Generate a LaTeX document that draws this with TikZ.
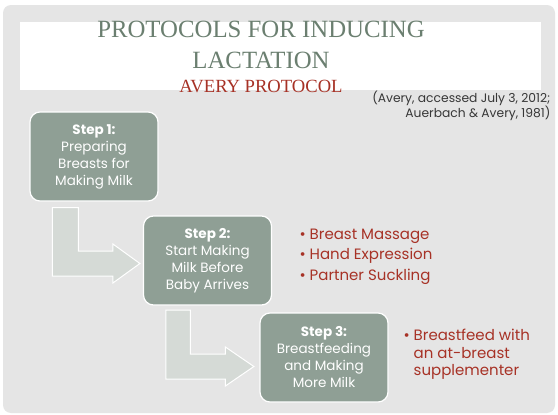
\documentclass[tikz,border=0pt]{standalone}
\usepackage{fontspec}
\setmainfont{Liberation Serif}
\newfontfamily\gothic{Poppins}
\usetikzlibrary{calc}
\definecolor{slidegray}{RGB}{229,229,229}
\definecolor{titlegreen}{RGB}{107,127,112}
\definecolor{titlered}{RGB}{167,50,38}
\definecolor{stepgreen}{RGB}{143,159,149}
\definecolor{arrowgray}{RGB}{213,218,214}
\definecolor{citegray}{RGB}{55,55,55}
\tikzset{
  stepbox/.style={rectangle, rounded corners=10pt, draw=white, line width=1.2pt,
    fill=stepgreen, text=white, minimum width=128pt, minimum height=89pt,
    align=center, font=\gothic\fontsize{13.5}{17}\selectfont},
  bendarrow/.style={draw=white, line width=1pt, fill=arrowgray},
  bullets/.style={anchor=west, align=left, text=titlered,
    font=\gothic\fontsize{15}{20.5}\selectfont},
}
\begin{document}
\begin{tikzpicture}[x=1pt, y=-1pt]
\useasboundingbox (0,0) rectangle (558,415);
\fill[white] (0,0) rectangle (558,415);
\fill[slidegray, rounded corners=8pt] (3,5) rectangle (555,413);
\fill[white] (20,22) rectangle (541,90);
% title
\node[font=\fontsize{24.8}{31}\selectfont, text=titlegreen, align=center] (title) at (261,44.5) {PROTOCOLS FOR INDUCING\\LACTATION};
\node[font=\fontsize{18.6}{20}\selectfont, text=titlered] (subtitle) at (261,86) {AVERY PROTOCOL};
\node[anchor=north east, align=right, text=citegray, font=\gothic\fontsize{12.3}{14}\selectfont] (cite) at (554,87) {(Avery, accessed July 3, 2012;\\Auerbach \& Avery, 1981)};
% steps
\node[stepbox] (s1) at (94,156.5) {\textbf{Step 1:}\\Preparing\\Breasts for\\Making Milk};
\node[stepbox] (s2) at (207.5,260.5) {\textbf{Step 2:}\\Start Making\\Milk Before\\Baby Arrives};
\node[stepbox] (s3) at (324,357.5) {\textbf{Step 3:}\\Breastfeeding\\and Making\\More Milk};
% bent arrows
\coordinate (a1) at ($(s1.south west)+(23,6)$);
\coordinate (t1) at ($(s2.west)+(-3,3)$);
\draw[bendarrow] (a1) -- ++(26,0) |- ($(t1)+(-27,-12.5)$) -- ++(0,-7) -- (t1)
  -- ++(-27,19.5) -- ++(0,-7) -| (a1) -- cycle;
\coordinate (a2) at ($(s2.south west)+(23,4.5)$);
\coordinate (t2) at ($(s3.west)+(-5.5,9)$);
\draw[bendarrow] (a2) -- ++(24.5,0) |- ($(t2)+(-28.5,-12.5)$) -- ++(0,-7) -- (t2)
  -- ++(-28.5,19.5) -- ++(0,-7) -| (a2) -- cycle;
% bullet lists
\node[bullets] (b2) at (296,256.5) {\textbullet\ Breast Massage\\\textbullet\ Hand Expression\\\textbullet\ Partner Suckling};
\node[bullets, font=\gothic\fontsize{15}{17.5}\selectfont] (b3) at (400,354.5) {\textbullet\ Breastfeed with\\\hphantom{\textbullet\ }an at-breast\\\hphantom{\textbullet\ }supplementer};
\end{tikzpicture}
\end{document}
